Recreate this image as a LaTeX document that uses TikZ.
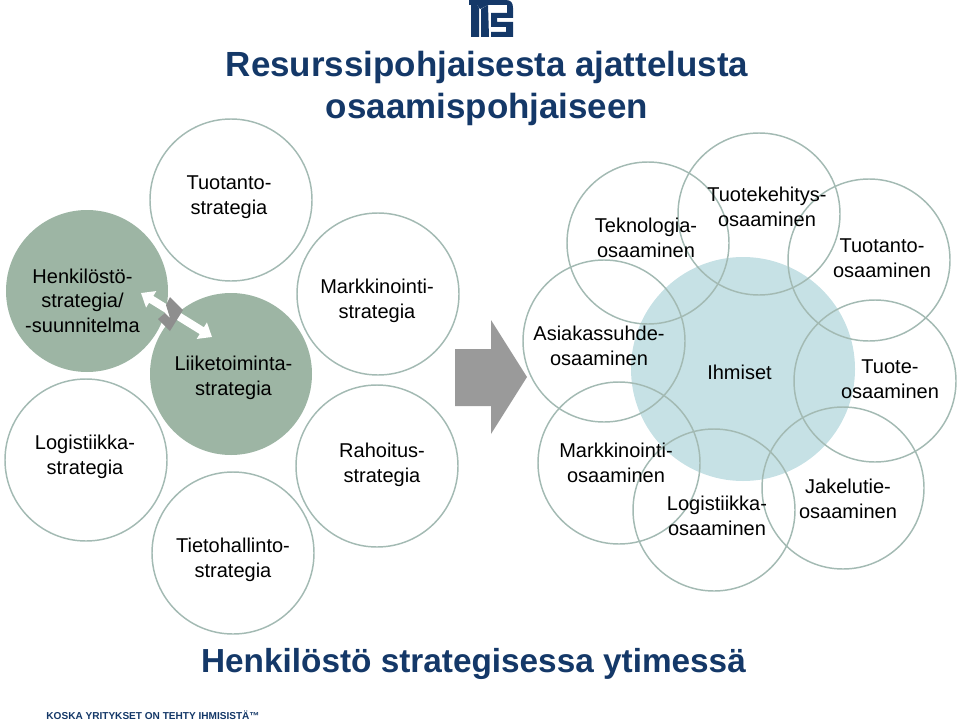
\documentclass[tikz,border=0pt]{standalone}
\usepackage{fontspec}
\setmainfont{Liberation Sans}
\usetikzlibrary{arrows.meta}
\definecolor{navy}{HTML}{143868}
\definecolor{sage}{HTML}{9DB5A4}
\definecolor{pale}{HTML}{C6E1E5}
\definecolor{ringline}{HTML}{A3BAB3}
\definecolor{arrowgrey}{HTML}{9A9A9A}
\tikzset{
  ring/.style={circle,draw=ringline,line width=1.1pt,minimum size=121.5pt,inner sep=0pt},
  lbl/.style={align=center,anchor=base,font=\fontsize{15}{18.2}\selectfont,text=black,inner sep=0pt},
}
\begin{document}
\begin{tikzpicture}[x=0.75pt,y=-0.75pt]
  \useasboundingbox (0,0) rectangle (959,724);
  % logo
  \fill[navy] (469,0)--(506,0)..controls (511,0) and (513,3) .. (513,8)--(513,13)--(507,13)--(507,5)--(488,5)--(480,9)--(477,5)--(469,5)--cycle;
  \fill[navy] (471,5)--(477,5)--(479,8)--(479,37)--(471,37)--cycle;
  \fill[navy] (481,9)--(488,5)--(489,37)--(481,37)--cycle;
  \fill[navy] (491,13)--(513,13)--(513,18)--(497,18)--(497,22)--(513,22)--(513,37)--(491,37)--(491,32)--(506,32)--(506,27)--(491,27)--cycle;
  % filled circles
  \node[ring,draw=none,fill=sage] (henkilosto) at (87,291) {};
  \node[ring,draw=none,fill=sage] (liiketoiminta) at (231,374) {};
  \node[ring,draw=none,fill=pale,minimum size=168pt] (ihmiset) at (743,369) {};
  % left circles
  \node[ring] (tuotanto) at (231,200) {};
  \node[ring] (markkinointi) at (378,294) {};
  \node[ring] (logistiikka) at (86,460) {};
  \node[ring] (rahoitus) at (377,466) {};
  \node[ring] (tietohallinto) at (233,553) {};
  % right circles
  \node[ring] (teknologia) at (648,243) {};
  \node[ring] (tuotekehitys) at (759,214) {};
  \node[ring] (tuotantoOs) at (869,260) {};
  \node[ring] (tuote) at (875,381) {};
  \node[ring] (asiakas) at (604,341) {};
  \node[ring] (markkinointiOs) at (619,463) {};
  \node[ring] (logistiikkaOs) at (714,510) {};
  \node[ring] (jakelu) at (843,488) {};
  % arrows between the filled circles
  \coordinate (arrowA) at (141,293);
  \coordinate (arrowB) at (212,337);
  \draw[white,line width=6pt,{Triangle[length=9pt,width=14pt]}-{Triangle[length=9pt,width=14pt]}] (arrowA)--(arrowB);
  \fill[arrowgrey!92!black] (170,297)--(183,310)--(170,331)--(158,319)--(165,313)--(170,318)--(166,305)--cycle;
  % big arrow
  \fill[arrowgrey] (455,349)--(491,349)--(491,320)--(527,377)--(491,434)--(491,406)--(455,406)--cycle;
  % titles
  \node[font=\bfseries\fontsize{26.2}{31.5}\selectfont,text=navy,align=center,inner sep=0pt] (title) at (487,88) {Resurssipohjaisesta ajattelusta\\osaamispohjaiseen};
  \node[font=\bfseries\fontsize{25}{30}\selectfont,text=navy,inner sep=0pt] (subtitle) at (473.5,664) {Henkilöstö strategisessa ytimessä};
  \node[font=\bfseries\fontsize{7.55}{10}\selectfont,text=navy,inner sep=0pt] (footer) at (153,715) {KOSKA YRITYKSET ON TEHTY IHMISISTÄ™};
  % labels
  \node[lbl] (tuotantoTxt) at (229,214) {Tuotanto-\\strategia};
  \node[lbl] (henkilostoTxt) at (82.5,332) {Henkilöstö-\\strategia/\\-suunnitelma};
  \node[lbl] (liiketoimintaTxt) at (233.5,395) {Liiketoiminta-\\strategia};
  \node[lbl] (markkinointiTxt) at (377,318) {Markkinointi-\\strategia};
  \node[lbl] (logistiikkaTxt) at (85,474) {Logistiikka-\\strategia};
  \node[lbl] (rahoitusTxt) at (382,482) {Rahoitus-\\strategia};
  \node[lbl] (tietohallintoTxt) at (233,577) {Tietohallinto-\\strategia};
  \node[lbl] (teknologiaTxt) at (646,257) {Teknologia-\\osaaminen};
  \node[lbl] (tuotekehitysTxt) at (767,226) {Tuotekehitys-\\osaaminen};
  \node[lbl] (tuotantoOsTxt) at (882,277) {Tuotanto-\\osaaminen};
  \node[lbl] (asiakasTxt) at (599,365) {Asiakassuhde-\\osaaminen};
  \node[lbl] (ihmisetTxt) at (739.5,379) {Ihmiset};
  \node[lbl] (tuoteTxt) at (890,398) {Tuote-\\osaaminen};
  \node[lbl] (markkinointiOsTxt) at (616,482) {Markkinointi-\\osaaminen};
  \node[lbl] (logistiikkaOsTxt) at (717,535) {Logistiikka-\\osaaminen};
  \node[lbl] (jakeluTxt) at (848,518) {Jakelutie-\\osaaminen};
\end{tikzpicture}
\end{document}
